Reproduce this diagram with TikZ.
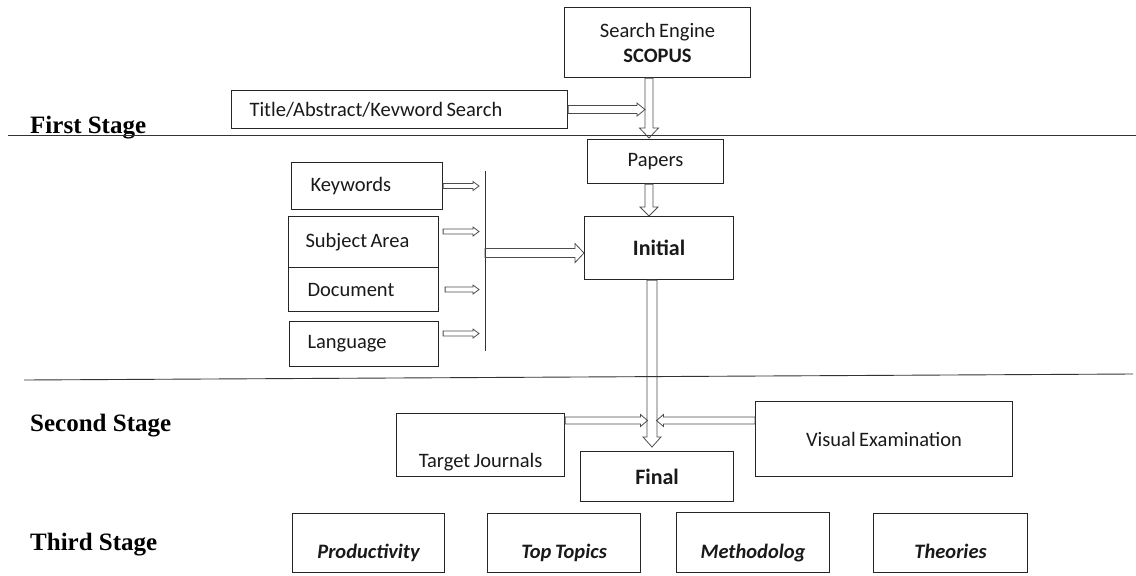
\documentclass[tikz,border=0pt]{standalone}
\usepackage{fontspec}
\setmainfont{Carlito}[WordSpace=0.75]
\newfontfamily\tnr{Liberation Serif}
\usetikzlibrary{calc}
\begin{document}
\begin{tikzpicture}[x=1pt,y=1pt,
  bx/.style={draw=black!85, line width=1.1pt, inner sep=0pt, anchor=north west,
    font=\fontsize{20.5}{24}\selectfont, text=black!90},
  lbx/.style n args={3}{bx, minimum width=#1, minimum height=#2, inner xsep=#3,
    text width={#1-2*#3}, align=flush left},
  cbx/.style n args={2}{bx, minimum width=#1, minimum height=#2, align=center},
  lowbx/.style n args={3}{bx, minimum width=#1, text height=#2, text depth=#3},
  stg/.style={font=\tnr\bfseries\fontsize{25}{30}\selectfont, anchor=base west, inner sep=0pt},
  conn/.style={draw=black!70, line width=0.8pt, line join=miter},
  blk/.style n args={3}{to path={
    let \p1=(\tikztostart), \p2=(\tikztotarget),
        \n1={veclen(\x2-\x1,\y2-\y1)},
        \n2={(\x2-\x1)/\n1}, \n3={(\y2-\y1)/\n1}
    in ({\x1-\n3*#1},{\y1+\n2*#1})
    -- ({\x2-\n2*#3-\n3*#1},{\y2-\n3*#3+\n2*#1})
    -- ({\x2-\n2*#3-\n3*#2},{\y2-\n3*#3+\n2*#2})
    -- (\p2)
    -- ({\x2-\n2*#3+\n3*#2},{\y2-\n3*#3-\n2*#2})
    -- ({\x2-\n2*#3+\n3*#1},{\y2-\n3*#3-\n2*#1})
    -- ({\x1+\n3*#1},{\y1-\n2*#1})
    -- cycle}},
  rule/.style={draw=black!80, line width=0.9pt}
]
\useasboundingbox (0,0) rectangle (1136,-576);

% ---------- boxes ----------
\node[cbx={186}{70}, font=\fontsize{20.5}{25}\selectfont] (scopus) at (564,-7)
  {Search Engine\\\textbf{SCOPUS}};
\node[lbx={336}{38}{18}] (title) at (231,-90) {Title/Abstract/Kevword Search};
\node[cbx={136}{44}] (papers) at (587,-139) {Papers};
\node[cbx={149}{63}, font=\bfseries\fontsize{22}{26}\selectfont] (initial) at (584,-216) {Initial};

\node[lbx={151}{47}{19}] (kw) at (291,-162) {Keywords};
\node[lbx={150}{51}{17}] (sa) at (288,-216) {Subject Area};
\node[lbx={150}{44}{19}] (doc) at (288,-267) {Document};
\node[lbx={149}{45}{18}] (lang) at (289,-321) {Language};

\node[lowbx={168}{53.5}{9.5}] (tj) at (396,-413) {Target Journals};
\node[cbx={153}{50}, font=\bfseries\fontsize{22}{26}\selectfont] (final) at (580,-451) {Final};
\node[cbx={257}{75}] (ve) at (755,-401) {Visual Examination};

\node[lowbx={152}{44.5}{14.5}, font=\bfseries\itshape\fontsize{20.5}{24}\selectfont] (prod) at (292,-513) {Productivity};
\node[lowbx={153}{44.5}{14.5}, font=\bfseries\itshape\fontsize{20.5}{24}\selectfont] (top) at (487,-513) {Top Topics};
\node[lowbx={153}{45.5}{14.5}, font=\bfseries\itshape\fontsize{20.5}{24}\selectfont] (meth) at (676,-512) {Methodolog};
\node[lowbx={154}{44.5}{14.5}, font=\bfseries\itshape\fontsize{20.5}{24}\selectfont] (theo) at (873,-513) {Theories};

% ---------- stage labels ----------
\node[stg] (s1) at (30,-133.5) {First Stage};
\node[stg] (s2) at (30,-431.5) {Second Stage};
\node[stg] (s3) at (30,-550) {Third Stage};

% ---------- helper coordinates ----------
\coordinate (ax) at (649,0);
\coordinate (bx) at (652,0);
\coordinate (bt) at (485,-171);
\coordinate (bb) at (485,-351);

% ---------- connectors ----------
\draw[conn, blk={4}{6.5}{8}] (title.east) to ($(ax |- title.east)+(-4,0)$);
\draw[conn, blk={4}{9.5}{10}] (ax |- scopus.south) to ($(ax |- papers.north)+(0,1)$);
\draw[conn, blk={4}{9}{9}] (ax |- papers.south) to (ax |- initial.north);

\draw[rule] (bt) -- (bb);
\draw[conn, blk={2.5}{4.5}{6}] (kw.east) to ($(bt |- kw.east)+(-6,0)$);
\draw[conn, blk={2.5}{4.5}{6}] ($(sa.east)+(4,10.5)$) to ($(bt |- sa.east)+(-6,10.5)$);
\draw[conn, blk={2.5}{4.5}{6}] ($(doc.east)+(6,0)$) to ($(bt |- doc.east)+(-6,0)$);
\draw[conn, blk={2.5}{4.5}{6}] ($(lang.east)+(4,10.5)$) to ($(bt |- lang.east)+(-6,10.5)$);
\draw[conn, blk={4.5}{9.5}{9}] ($(bt |- initial.west)+(0,-5)$) to ($(initial.west)+(0,-5)$);

\draw[conn, blk={5}{9}{10}] (bx |- initial.south) to ($(bx |- final.north)+(0,4)$);
\draw[conn, blk={3.5}{6}{7}] ($(tj.north east)+(0,-7.5)$) to ($(bx |- tj.north east)+(-4.5,-7.5)$);
\draw[conn, blk={3.5}{6}{7}] ($(ve.north west)+(0,-19.5)$) to ($(bx |- ve.north west)+(4.5,-19.5)$);

% ---------- stage rules ----------
\coordinate (r1a) at (8,-135);
\coordinate (r1b) at (1136,-135);
\coordinate (r2a) at (24,-380);
\coordinate (r2b) at (1133,-374);
\draw[rule] (r1a) -- (r1b);
\draw[rule] (r2a) -- (r2b);
\end{tikzpicture}
\end{document}
